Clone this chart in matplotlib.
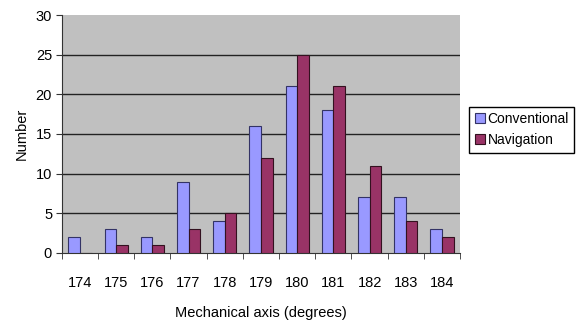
import numpy as np
import matplotlib.pyplot as plt

plt.rcParams['font.family'] = ['Liberation Sans', 'DejaVu Sans']

# values
degrees = ['174', '175', '176', '177', '178', '179', '180', '181', '182', '183', '184']
conventional = [2, 3, 2, 9, 4, 16, 21, 18, 7, 7, 3]
navigation = [0, 1, 1, 3, 5, 12, 25, 21, 11, 4, 2]

fig = plt.figure(figsize=(5.78, 3.28), dpi=100)
ax = fig.add_axes([0.107, 0.229, 0.689, 0.725])
ax.set_facecolor('#c0c0c0')

x = np.arange(len(degrees))
w = 0.32
ax.bar(x - w / 2, conventional, w, color='#9999ff', edgecolor='#333366',
       linewidth=0.8, label='Conventional', zorder=3)
ax.bar(x + w / 2, navigation, w, color='#993366', edgecolor='#33111f',
       linewidth=0.8, label='Navigation', zorder=3)

ax.set_xlim(-0.5, len(degrees) - 0.5)
ax.set_ylim(0, 30)
ax.set_yticks(range(0, 31, 5))
for y in range(5, 30, 5):
    ax.axhline(y, color='#222222', linewidth=1.0, zorder=1)

# category labels sit below, ticks sit between categories
ax.set_xticks(x)
ax.set_xticklabels(degrees)
ax.set_xticks(np.arange(-0.5, len(degrees)), minor=True)
ax.tick_params(axis='x', which='major', length=0, pad=17, labelsize=10.5)
ax.tick_params(axis='x', which='minor', length=4, direction='out', color='#333333')
ax.tick_params(axis='y', length=4, direction='out', labelsize=10.5, pad=3, color='#333333')

for side in ['top', 'right']:
    ax.spines[side].set_visible(False)
ax.spines['left'].set_color('#333333')
ax.spines['bottom'].set_color('#333333')

ax.set_ylabel('Number', fontsize=10.5, labelpad=5)
ax.set_xlabel('Mechanical axis (degrees)', fontsize=10.5, labelpad=11)

fig.legend(loc='upper left', bbox_to_anchor=(0.812, 0.675), fontsize=10,
           fancybox=False, edgecolor='black', framealpha=1,
           handlelength=0.7, handleheight=0.7, handletextpad=0.2,
           borderpad=0.4, labelspacing=0.5, borderaxespad=0)

fig.savefig('out.png', dpi=100)
